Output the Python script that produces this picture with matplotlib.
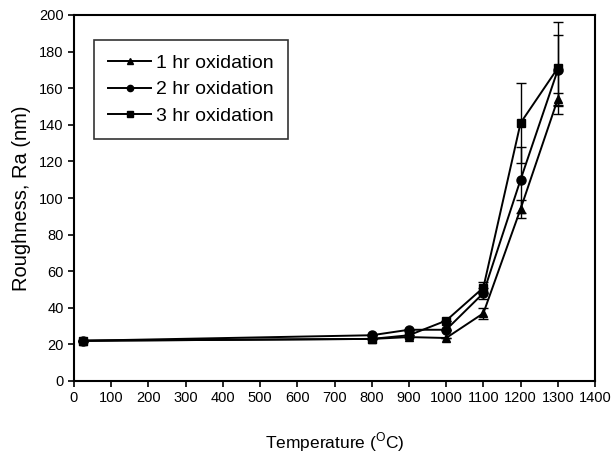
import matplotlib
matplotlib.use("Agg")
import matplotlib.pyplot as plt
from matplotlib.lines import Line2D

plt.rcParams['font.family'] = ['Liberation Sans', 'DejaVu Sans']
plt.rcParams['mathtext.fontset'] = 'custom'
plt.rcParams['mathtext.rm'] = 'Liberation Sans'

temps = [25, 800, 900, 1000, 1100, 1200, 1300]
ra_1hr = [22, 23, 24, 23.5, 37, 94, 154]
ra_2hr = [22, 25, 28, 28, 48, 110, 170]
ra_3hr = [22, 23, 25, 33, 51, 141, 171]
err_1hr = [0, 0, 0, 0, 3, 5, 3.5]
err_2hr = [0, 0, 0, 0, 3, 18, 19]
err_3hr = [0, 0, 0, 0, 3, 22, 25]
labels = ["1 hr oxidation", "2 hr oxidation", "3 hr oxidation"]
markers = ["^", "o", "s"]

fig = plt.figure(figsize=(6.14, 4.59), dpi=100)
ax = fig.add_axes([74/614, 1-381/459, 521/614, 366/459])

handles = []
for y, e, m, lab in zip([ra_1hr, ra_2hr, ra_3hr], [err_1hr, err_2hr, err_3hr], markers, labels):
    ax.errorbar(temps, y, yerr=e, color='black', marker=m, markersize=6 if m != 'o' else 6.5,
                linewidth=1.4, elinewidth=1.0, capsize=3.5, capthick=1.0)
    handles.append(Line2D([], [], color='black', marker=m, markersize=4.5, linewidth=1.4, label=lab))

ax.set_xlim(0, 1400)
ax.set_ylim(0, 200)
ax.set_xticks(range(0, 1401, 100))
ax.set_yticks(range(0, 201, 20))
ax.tick_params(direction='out', length=4, width=1.2, labelsize=10.5, colors='black')
for s in ax.spines.values():
    s.set_linewidth(1.5)
ax.set_xlabel("Temperature ($^{\\rm O}$C)", fontsize=12.5, labelpad=18)
ax.set_ylabel("Roughness, Ra (nm)", fontsize=14.5, labelpad=6)

leg = ax.legend(handles=handles, loc='upper left', bbox_to_anchor=(0.038, 0.932), fontsize=14,
                frameon=True, fancybox=False, edgecolor='black', handlelength=2.2,
                handletextpad=0.25, labelspacing=0.45, borderpad=0.75, borderaxespad=0)
leg.get_frame().set_linewidth(1.2)

fig.savefig("out.png", dpi=100)
